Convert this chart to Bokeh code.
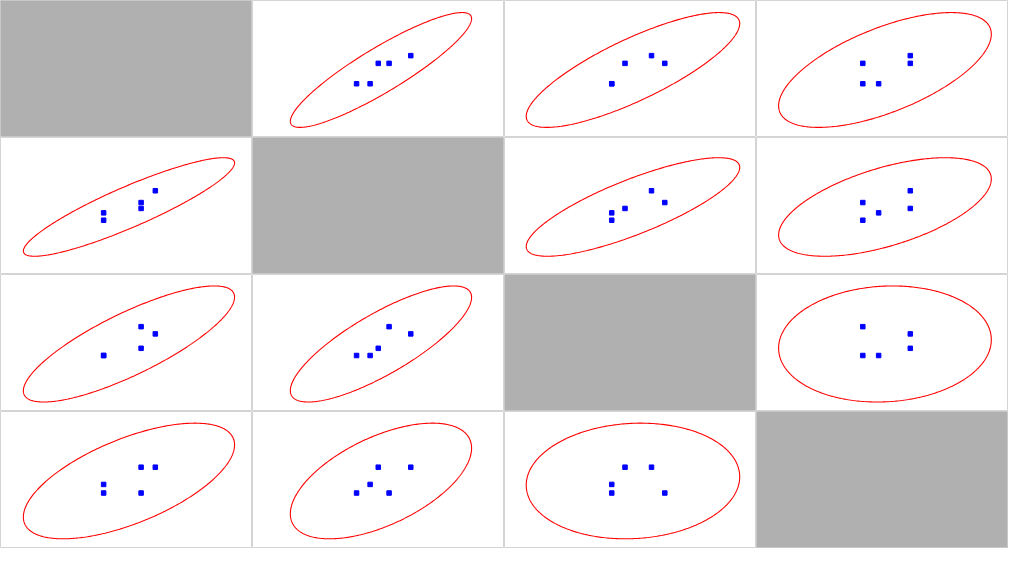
import numpy as np
from bokeh.plotting import figure
from bokeh.layouts import gridplot
from bokeh.models import Range1d
from bokeh.embed import file_html
from bokeh.resources import INLINE

# Five observations of four variables (scatterplot matrix)
var_a = [2.0, 2.0, 4.9, 4.9, 6.0]
var_b = [10.0, 15.0, 18.0, 22.0, 30.0]
var_c = [1.0, 1.0, 2.0, 5.0, 4.0]
var_d = [1.0, 2.0, 4.0, 1.0, 4.0]
variables = [var_a, var_b, var_c, var_d]

# axis half-span of each variable around its mean
half_spans = [9.75, 46.5, 9.5, 7.96]
ellipse_k = 4.43  # ellipse size in standard deviations

CELL_W, CELL_H = 252, 137
SHIFT_X = 2.5 / 256   # fraction of the span: data mean sits slightly right of centre
SHIFT_Y = 1.0 / 141   # and slightly below centre
n = len(variables)

x_ranges, y_ranges = [], []
for v, h in zip(variables, half_spans):
    m = float(np.mean(v))
    dx = SHIFT_X * 2 * h
    dy = SHIFT_Y * 2 * h
    x_ranges.append((m - h - dx, m + h - dx))
    y_ranges.append((m - h + dy, m + h + dy))

t = np.linspace(0, 2 * np.pi, 361)
rows = []
for i in range(n):
    row = []
    for j in range(n):
        p = figure(width=CELL_W, height=CELL_H, output_backend="svg",
                   toolbar_location=None, min_border=0,
                   x_range=Range1d(*x_ranges[j]), y_range=Range1d(*y_ranges[i]))
        p.axis.visible = False
        p.grid.visible = False
        p.outline_line_color = "#d4d4d4"
        p.outline_line_width = 1
        if i == j:
            p.background_fill_color = "#b0b0b0"
            p.border_fill_color = "#b0b0b0"
            p.outline_line_color = "#c8c8c8"
        else:
            x = np.asarray(variables[j], dtype=float)
            y = np.asarray(variables[i], dtype=float)
            cov = np.cov(x, y)
            vals, vecs = np.linalg.eigh(cov)
            vals = np.clip(vals, 0, None)
            L = vecs @ np.diag(np.sqrt(vals))
            circ = np.vstack([np.cos(t), np.sin(t)])
            pts = ellipse_k * (L @ circ)
            p.line(x.mean() + pts[0], y.mean() + pts[1],
                   line_color="#ff0000", line_width=1.1)
            p.scatter(x, y, marker="square", size=4.5,
                      fill_color="#0000ff", line_color="#0000ff")
        row.append(p)
    rows.append(row)

grid = gridplot(rows, toolbar_location=None)
open("out.html", "w").write(file_html(grid, INLINE))
